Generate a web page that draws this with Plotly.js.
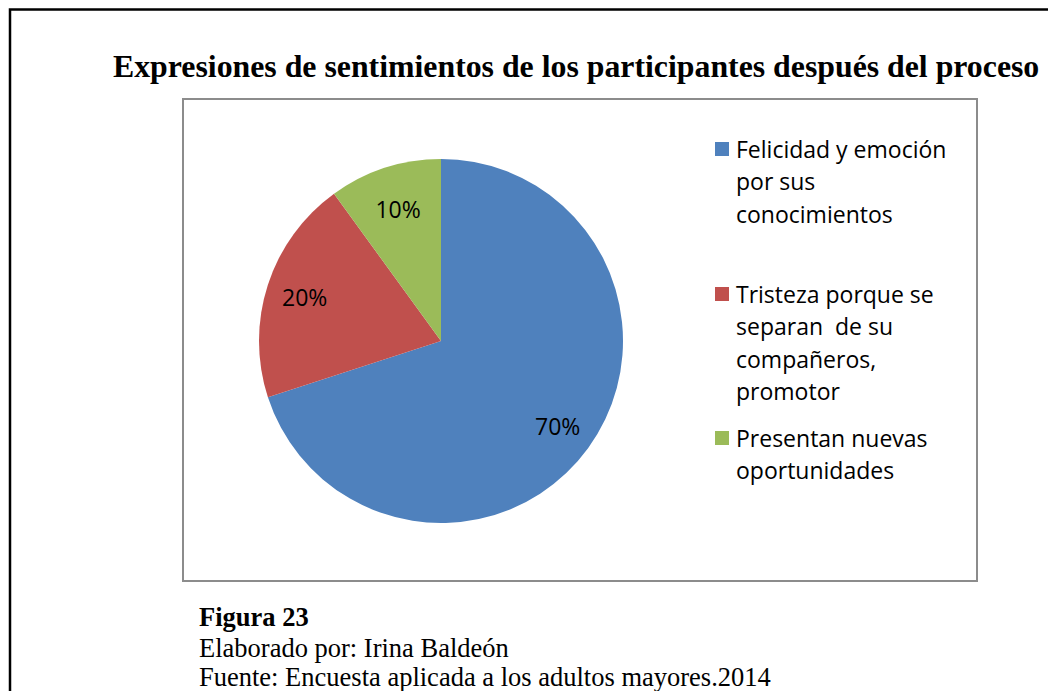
<!DOCTYPE html>
<html>
<head>
<meta charset="utf-8">
<script src="https://cdn.plot.ly/plotly-3.0.1.min.js"></script>
<style>html,body{margin:0;padding:0;background:#fff;}#chart{width:1048px;height:691px;}</style>
</head>
<body>
<div id="chart"></div>
<script>
const categories = ["Felicidad y emoción<br>por sus<br>conocimientos", "Tristeza porque se<br>separan  de su<br>compañeros,<br>promotor", "Presentan nuevas<br>oportunidades"];
const values = [70, 20, 10];
const colors = ["#4F81BD", "#C0504D", "#9BBB59"];
const titleText = "Expresiones de sentimientos de los participantes después del proceso";
const captionLines = ["<b>Figura 23</b>", "Elaborado por: Irina Baldeón", "Fuente: Encuesta aplicada a los adultos mayores.2014"];

const W = 1048, H = 691;
const px = x => x / W;
const py = y => 1 - y / H;
const sansFont = "'Open Sans', 'Noto Sans', sans-serif";
const legendFont = {family: sansFont, size: 23, color: "#000"};

const annotations = [];
const shapes = [];
// outer page frame
shapes.push({type: "rect", xref: "paper", yref: "paper", x0: px(10), x1: px(1060), y0: py(9.5), y1: py(710), line: {color: "#000", width: 2.5}, fillcolor: "rgba(0,0,0,0)", layer: "below"});
// chart area frame
shapes.push({type: "rect", xref: "paper", yref: "paper", x0: px(183), x1: px(977), y0: py(99), y1: py(581), line: {color: "#8c8c8c", width: 2}, fillcolor: "rgba(0,0,0,0)", layer: "below"});

// custom legend
const entryTop = [149, 294, 438];
const lineGap = 32.4;
categories.forEach((lab, i) => {
  shapes.push({type: "rect", xref: "paper", yref: "paper", x0: px(715), x1: px(729), y0: py(entryTop[i] - 7), y1: py(entryTop[i] + 7), line: {width: 0}, fillcolor: colors[i]});
  lab.split("<br>").forEach((ln, j) => {
    annotations.push({xref: "paper", yref: "paper", x: px(734), y: py(entryTop[i] + j * lineGap), xanchor: "left", yanchor: "middle", showarrow: false, text: ln.replace(/  /g, " \u00a0"), font: legendFont});
  });
});

// percentage labels for the two large slices, placed at the slice mid-angle
const total = values.reduce((a, b) => a + b, 0);
const cx = 441, cy = 341, R = 182;
let cum = 0;
values.forEach((v, i) => {
  const mid = (cum + v / 2) / total * 2 * Math.PI;
  cum += v;
  if (i < 2) {
    const r = 0.79 * R;
    annotations.push({xref: "paper", yref: "paper", x: px(cx + r * Math.sin(mid)), y: py(cy - r * Math.cos(mid)), xanchor: "center", yanchor: "middle", showarrow: false, text: Math.round(v / total * 100) + "%", font: legendFont});
  }
});

// title
annotations.push({xref: "paper", yref: "paper", x: px(111), y: py(66), xanchor: "left", yanchor: "middle", showarrow: false, text: "<b>" + titleText + "</b>", font: {family: "'Liberation Serif', 'Times New Roman', serif", size: 31.8, color: "#000"}});
// caption
const capY = [617, 648, 677];
captionLines.forEach((t, i) => {
  annotations.push({xref: "paper", yref: "paper", x: px(197), y: py(capY[i]), xanchor: "left", yanchor: "middle", showarrow: false, text: t, font: {family: "'Liberation Serif', 'Times New Roman', serif", size: 26.5, color: "#000"}});
});

const data = [{
  type: "pie",
  labels: categories,
  values: values,
  marker: {colors: colors, line: {width: 0}},
  sort: false,
  direction: "clockwise",
  rotation: 0,
  texttemplate: "%{percent:.0%}",
  textposition: ["none", "none", "inside"],
  insidetextorientation: "horizontal",
  textfont: {family: sansFont, size: 23, color: "#000"},
  hoverinfo: "label+percent",
  showlegend: false,
  domain: {x: [px(259), px(623)], y: [py(523), py(159)]}
}];

const layout = {
  width: W, height: H,
  margin: {l: 0, r: 0, t: 0, b: 0},
  paper_bgcolor: "#fff",
  showlegend: false,
  shapes: shapes,
  annotations: annotations
};

Plotly.newPlot("chart", data, layout, {displayModeBar: false, staticPlot: true});
</script>
</body>
</html>
